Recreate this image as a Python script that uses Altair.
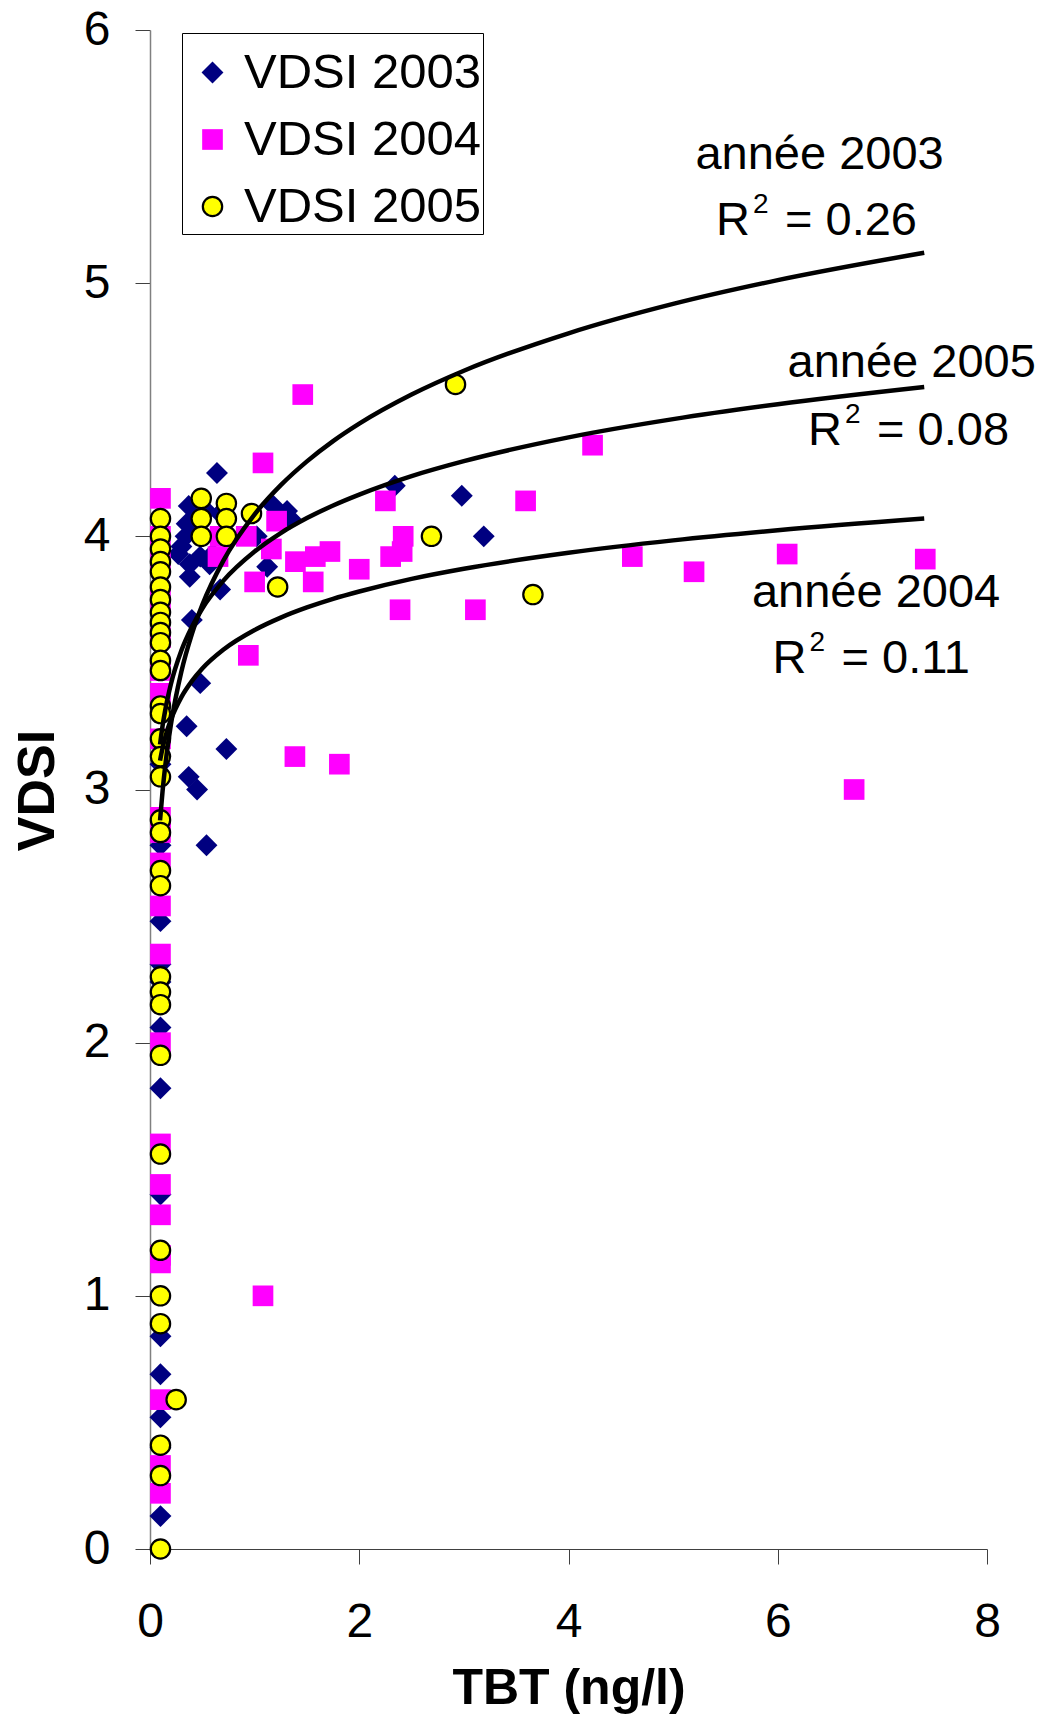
import altair as alt
import pandas as pd

FONT = "Liberation Sans"
series_names = ["VDSI 2003", "VDSI 2004", "VDSI 2005"]

# ---- VDSI 2003 (navy diamonds)
x2003 = [0.1, 0.1, 0.1, 0.1, 0.1, 0.1, 0.1, 0.1, 0.1, 0.1, 0.1, 0.1, 0.1,
         0.64, 0.37, 0.35, 0.34, 0.30, 0.27, 0.38, 0.38, 0.48, 0.57, 0.67,
         0.45, 0.42, 0.60, 0.54, 1.02, 1.18, 1.31, 1.34, 1.12, 0.67,
         2.34, 2.98, 3.19, 0.40, 0.48, 0.35, 0.73, 0.37, 0.45, 0.54]
y2003 = [3.10, 2.78, 2.48, 2.31, 2.24, 2.06, 1.82, 1.40, 0.84, 0.69, 0.52, 0.40, 0.13,
         4.25, 4.12, 4.05, 4.00, 3.96, 3.93, 3.89, 3.84, 3.92, 3.89, 4.09,
         4.07, 4.02, 3.93, 4.10, 4.00, 4.12, 4.10, 4.07, 3.88, 3.79,
         4.20, 4.16, 4.00, 3.67, 3.42, 3.25, 3.16, 3.05, 3.00, 2.78]

# ---- VDSI 2004 (magenta squares)
x2004 = [0.1, 0.1, 0.1, 0.1, 0.1, 0.1, 0.1, 0.1, 0.1, 0.1, 0.1, 0.1, 0.1, 0.1,
         0.1, 0.1, 0.1, 0.1, 0.1, 0.1, 0.1, 0.1,
         1.46, 1.08, 4.23, 3.59, 2.25, 0.67, 0.92, 0.65, 1.21, 1.16, 1.39, 1.58,
         1.72, 1.00, 1.56, 0.94, 2.00, 2.30, 2.41, 2.42, 2.39, 3.11, 4.61, 5.20,
         6.09, 7.41, 1.385, 1.81, 6.73, 1.08]
y2004 = [4.15, 4.00, 3.90, 3.75, 3.60, 3.47, 3.38, 3.20, 2.89, 2.83, 2.71, 2.54,
         2.35, 2.00, 1.60, 1.44, 1.32, 1.16, 1.13, 0.59, 0.33, 0.22,
         4.56, 4.29, 4.36, 4.14, 4.14, 4.00, 4.00, 3.92, 4.06, 3.95, 3.90, 3.92,
         3.94, 3.82, 3.82, 3.53, 3.87, 3.92, 3.94, 4.00, 3.71, 3.71, 3.92, 3.86,
         3.93, 3.91, 3.13, 3.10, 3.00, 1.00]

# ---- VDSI 2005 (yellow circles)
x2005 = [0.1] * 33 + [0.25, 0.49, 0.49, 0.49, 0.73, 0.73, 0.73, 0.97, 1.22, 2.69, 2.92, 3.66]
y2005 = [4.07, 4.00, 3.95, 3.90, 3.86, 3.80, 3.75, 3.70, 3.66, 3.62, 3.58, 3.51,
         3.47, 3.33, 3.30, 3.20, 3.13, 3.05, 2.88, 2.83, 2.68, 2.62, 2.26, 2.20,
         2.15, 1.95, 1.56, 1.18, 1.00, 0.89, 0.41, 0.29, 0.00,
         0.59, 4.15, 4.07, 4.00, 4.13, 4.07, 4.00, 4.09, 3.80, 4.00, 4.60, 3.77]

# ---- logarithmic trend curves
curve_x = [0.096, 0.12, 0.15, 0.2, 0.3, 0.4, 0.5, 0.7, 1, 1.25, 1.5, 1.75, 2, 2.5,
           3, 4, 5, 6, 7.4]
curve_2003 = [2.878, 2.993, 3.108, 3.257, 3.466, 3.614, 3.729, 3.903, 4.087, 4.202,
              4.296, 4.376, 4.445, 4.560, 4.654, 4.802, 4.918, 5.012, 5.120]
curve_2005 = [3.178, 3.251, 3.323, 3.417, 3.549, 3.642, 3.715, 3.824, 3.940, 4.013,
              4.072, 4.122, 4.165, 4.238, 4.297, 4.391, 4.463, 4.522, 4.590]
curve_2004 = [3.114, 3.164, 3.213, 3.276, 3.365, 3.428, 3.478, 3.552, 3.630, 3.679,
              3.719, 3.753, 3.782, 3.832, 3.872, 3.935, 3.984, 4.024, 4.070]

# ---- annotations
year_text = ["année 2003", "année 2005", "année 2004"]
year_x = [6.40, 7.28, 6.94]
year_y = [5.45, 4.63, 3.72]
r2_text = ["= 0.26", "= 0.08", "= 0.11"]
r2_x = [5.41, 6.29, 5.95]
r2_y = [5.19, 4.36, 3.46]

pts = pd.DataFrame({
    "TBT": x2003 + x2004 + x2005,
    "VDSI": y2003 + y2004 + y2005,
    "series": [series_names[0]] * len(x2003) + [series_names[1]] * len(x2004)
              + [series_names[2]] * len(x2005),
})
curves = pd.DataFrame({
    "TBT": curve_x * 3,
    "VDSI": curve_2003 + curve_2005 + curve_2004,
    "trend": ["2003"] * len(curve_x) + ["2005"] * len(curve_x) + ["2004"] * len(curve_x),
})
years = pd.DataFrame({"label": year_text, "TBT": year_x, "VDSI": year_y})
r2 = pd.DataFrame({"label": r2_text, "TBT": r2_x, "VDSI": r2_y})

x_enc = alt.X("TBT:Q", title="TBT (ng/l)",
              scale=alt.Scale(domain=[0, 8], nice=False, zero=True),
              axis=alt.Axis(values=[0, 2, 4, 6, 8], format="d", grid=False,
                            tickSize=15, tickColor="#404040", tickWidth=1,
                            domainColor="#404040", domainWidth=1,
                            labelFontSize=48, labelFont=FONT, labelColor="black",
                            labelPadding=34, labelFlush=False, labelOverlap=False,
                            titleFontSize=50, titleFont=FONT, titleFontWeight="bold",
                            titleColor="black", titleY=154, titleBaseline="alphabetic"))
y_enc = alt.Y("VDSI:Q", title="VDSI",
              scale=alt.Scale(domain=[0, 6], nice=False),
              axis=alt.Axis(values=[0, 1, 2, 3, 4, 5, 6], format="d", grid=False,
                            tickSize=15, tickColor="#404040", tickWidth=1,
                            domainColor="#808080", domainWidth=1.5,
                            labelFontSize=48, labelFont=FONT, labelColor="black",
                            labelPadding=25, labelFlush=False, labelOverlap=False,
                            titleFontSize=52, titleFont=FONT, titleFontWeight="bold",
                            titleColor="black", titleAngle=270, titleX=-97, titleY=760,
                            titleAlign="center", titleBaseline="alphabetic"))

LEG_TITLE = " "
leg = alt.Legend(labelExpr="datum.label + '\u00a0\u00a0'")
points = alt.Chart(pts).mark_point(filled=True, opacity=1, strokeWidth=2.2).encode(
    x=x_enc,
    y=y_enc,
    shape=alt.Shape("series:N", title=LEG_TITLE, legend=leg,
                    scale=alt.Scale(domain=series_names, range=["diamond", "square", "circle"])),
    fill=alt.Fill("series:N", title=LEG_TITLE, legend=leg,
                  scale=alt.Scale(domain=series_names, range=["#000080", "#FF00FF", "#FFFF00"])),
    stroke=alt.Stroke("series:N", title=LEG_TITLE, legend=leg,
                      scale=alt.Scale(domain=series_names, range=["transparent", "transparent", "#000000"])),
    size=alt.Size("series:N", title=LEG_TITLE, legend=leg,
                  scale=alt.Scale(domain=series_names, range=[480, 375, 250])),
)

lines = alt.Chart(curves).mark_line(color="black", strokeWidth=4.5, interpolate="monotone").encode(
    x="TBT:Q", y="VDSI:Q", detail="trend:N")

year_marks = alt.Chart(years).mark_text(font=FONT, fontSize=47, align="center",
                                        baseline="alphabetic", color="black").encode(
    x="TBT:Q", y="VDSI:Q", text="label:N")

r_marks = alt.Chart(r2).mark_text(font=FONT, fontSize=47, align="left",
                                  baseline="alphabetic", color="black").encode(
    x="TBT:Q", y="VDSI:Q", text=alt.value("R"))
sup_marks = alt.Chart(r2).mark_text(font=FONT, fontSize=28, align="left",
                                    baseline="alphabetic", color="black",
                                    dx=37, dy=-22).encode(
    x="TBT:Q", y="VDSI:Q", text=alt.value("2"))
val_marks = alt.Chart(r2).mark_text(font=FONT, fontSize=47, align="left",
                                    baseline="alphabetic", color="black", dx=69).encode(
    x="TBT:Q", y="VDSI:Q", text="label:N")

chart = alt.layer(points, lines, year_marks, r_marks, sup_marks, val_marks).properties(
    width=837, height=1519,
    autosize=alt.AutoSizeParams(type="none"),
    padding={"left": 150, "top": 30, "right": 56, "bottom": 168},
).configure_view(strokeWidth=0).configure_legend(
    orient="none", legendX=32, legendY=3, padding=2,
    strokeColor="#000000", fillColor="#FFFFFF",
    titleFontSize=8, titlePadding=5,
    labelFontSize=49, labelFont=FONT, labelColor="black", labelLimit=500,
    rowPadding=17, symbolOffset=4, labelOffset=7, symbolStrokeWidth=2.2,
)

chart.save("out.html", embed_options={"renderer": "svg", "actions": False})
